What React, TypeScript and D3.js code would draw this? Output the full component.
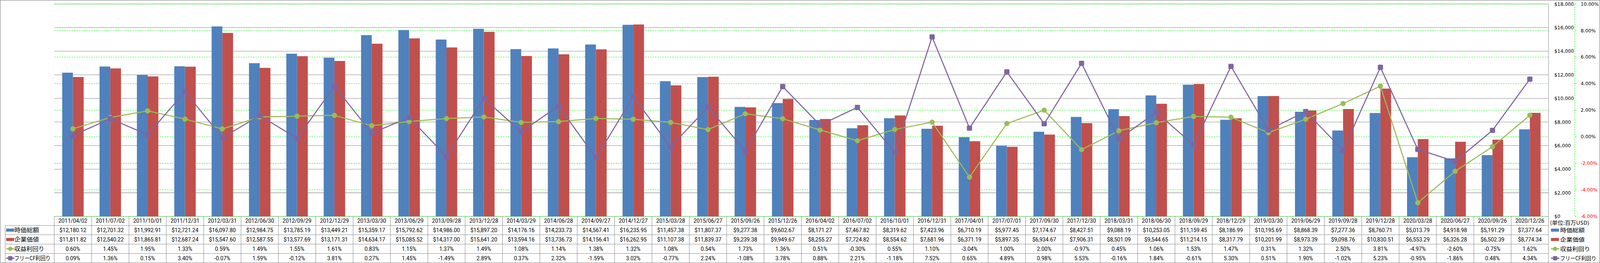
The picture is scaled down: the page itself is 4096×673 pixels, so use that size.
import React from 'react';
import * as d3 from 'd3';

const dates = [
  '2011/04/02', '2011/07/02', '2011/10/01', '2011/12/31',
  '2012/03/31', '2012/06/30', '2012/09/29', '2012/12/29',
  '2013/03/30', '2013/06/29', '2013/09/28', '2013/12/28',
  '2014/03/29', '2014/06/28', '2014/09/27', '2014/12/27',
  '2015/03/28', '2015/06/27', '2015/09/26', '2015/12/26',
  '2016/04/02', '2016/07/02', '2016/10/01', '2016/12/31',
  '2017/04/01', '2017/07/01', '2017/09/30', '2017/12/30',
  '2018/03/31', '2018/06/30', '2018/09/29', '2018/12/29',
  '2019/03/30', '2019/06/29', '2019/09/28', '2019/12/28',
  '2020/03/28', '2020/06/27', '2020/09/26', '2020/12/26',
];

// 時価総額 (百万USD)
const marketCap = [
  12180.12, 12701.32, 11992.91, 12721.24, 16097.8, 12984.75, 13785.19, 13449.21,
  15359.17, 15792.62, 14986.0, 15897.2, 14176.16, 14233.73, 14567.41, 16235.95,
  11457.38, 11807.37, 9277.38, 9602.67, 8171.27, 7467.82, 8319.62, 7423.96,
  6710.19, 5977.45, 7174.67, 8427.51, 9088.19, 10253.05, 11159.45, 8186.99,
  10195.69, 8868.39, 7277.36, 8760.71, 5013.79, 4918.98, 5191.29, 7377.64,
];

// 企業価値 (百万USD)
const enterpriseValue = [
  11811.82, 12540.22, 11865.81, 12687.24, 15547.6, 12587.55, 13577.69, 13171.31,
  14634.17, 15085.52, 14317.0, 15641.2, 13594.16, 13736.73, 14156.41, 16262.95,
  11107.38, 11839.37, 9239.38, 9949.67, 8255.27, 7724.82, 8554.62, 7681.96,
  6371.19, 5897.35, 6934.67, 7906.31, 8501.09, 9544.65, 11214.15, 8317.79,
  10201.99, 8973.39, 9098.76, 10830.51, 6553.29, 6326.28, 6502.39, 8774.34,
];

// 収益利回り (%)
const earningsYield = [
  0.6, 1.45, 1.95, 1.33, 0.59, 1.49, 1.55, 1.61, 0.83, 1.15, 1.37, 1.49,
  1.08, 1.14, 1.38, 1.32, 1.08, 0.54, 1.73, 1.36, 0.51, -0.3, 0.55, 1.1,
  -3.04, 1.0, 2.0, -0.97, 0.45, 1.06, 1.53, 1.47, 0.31, 1.32, 2.5, 3.81,
  -4.97, -2.6, -0.75, 1.62,
];

// フリーCF利回り (%)
const fcfYield = [
  0.09, 1.36, 0.15, 3.4, -0.07, 1.59, -0.12, 3.81, 0.27, 1.45, -1.49, 2.89,
  0.37, 2.32, -1.59, 3.02, -0.77, 2.24, -1.08, 3.78, 0.88, 2.21, -1.18, 7.52,
  0.65, 4.89, 0.98, 5.53, -0.16, 1.84, -0.61, 5.3, 0.51, 1.9, -1.02, 5.23,
  -0.95, -1.86, 0.48, 4.34,
];

const seriesNames = ['時価総額', '企業価値', '収益利回り', 'フリーCF利回り'];
const unitLabel = '(単位:百万USD)';

const W = 5221;
const H = 858;
const plot = { left: 177, right: 5053, top: 13, bottom: 706 };
const headerBottom = 735.5;
const rowH = 30.5;

const colors = {
  blue: '#4F81BD',
  red: '#C0504D',
  green: '#9BBB59',
  purple: '#8064A2',
  grid: '#868686',
  dash: '#00FF00',
};

const locale = d3.formatLocale({
  decimal: '.',
  thousands: ',',
  grouping: [3],
  currency: ['$', ''],
  minus: '-',
});
const fmtDollar = locale.format('$,.2f');
const fmtAxisDollar = locale.format('$,');
const fmtPct = (v: number) => locale.format('.2f')(v) + '%';

const tableFont = 'Roboto, "Liberation Sans", sans-serif';
const axisFont = '"DejaVu Sans", Verdana, sans-serif';
const jpFont = '"Noto Sans CJK JP", "Noto Sans CJK SC", sans-serif';

type KeyKind = 'bar' | 'circle' | 'square';

function LegendKey({ kind, color, x, y }: { kind: KeyKind; color: string; x: number; y: number }) {
  if (kind === 'bar') {
    return <rect x={x} y={y - 5} width={26} height={10} fill={color} />;
  }
  return (
    <g>
      <line x1={x} x2={x + 27} y1={y} y2={y} stroke={color} strokeWidth={4} />
      {kind === 'circle' ? (
        <circle cx={x + 13.5} cy={y} r={7} fill={color} />
      ) : (
        <rect x={x + 6.5} y={y - 7} width={14} height={14} rx={2.5} fill={color} />
      )}
    </g>
  );
}

// legend labels are squeezed a bit like the original narrow gothic font
const labelWidths = [80, 80, 98, 118];

export default function App() {
  const x = d3.scaleBand<string>().domain(dates).range([plot.left, plot.right]);
  const bw = x.bandwidth();
  const barW = bw * 0.287;
  const sub = d3
    .scaleBand<string>()
    .domain(['mc', 'ev'])
    .range([bw / 2 - barW, bw / 2 + barW]);

  const yDollar = d3.scaleLinear().domain([0, 18000]).range([plot.bottom, plot.top]);
  const yPct = d3.scaleLinear().domain([-6, 10]).range([plot.bottom, plot.top]);

  const dollarTicks = yDollar.ticks(9);
  const pctTicks = yPct.ticks(8);

  const cx = (i: number) => (x(dates[i]) as number) + bw / 2;
  const line = d3
    .line<number>()
    .x((_, i) => cx(i))
    .y((d) => yPct(d));

  const rows: { name: string; kind: KeyKind; color: string; values: string[] }[] = [
    { name: seriesNames[0], kind: 'bar', color: colors.blue, values: marketCap.map(fmtDollar) },
    { name: seriesNames[1], kind: 'bar', color: colors.red, values: enterpriseValue.map(fmtDollar) },
    { name: seriesNames[2], kind: 'circle', color: colors.green, values: earningsYield.map(fmtPct) },
    { name: seriesNames[3], kind: 'square', color: colors.purple, values: fcfYield.map(fmtPct) },
  ];
  const rowCenter = (r: number) => headerBottom + rowH * r + rowH / 2;
  const tableBottom = headerBottom + rowH * rows.length;

  return (
    <svg
      width={4096}
      height={673}
      viewBox={`0 0 ${W} ${H}`}
      preserveAspectRatio="none"
      style={{ position: 'absolute', left: 0, top: 0, background: '#fff' }}
    >
      <rect x={0} y={0} width={W} height={H} fill="#fff" />

      {/* gray $ gridlines */}
      {dollarTicks.map((t) => (
        <line key={`g${t}`} x1={plot.left} x2={plot.right} y1={yDollar(t)} y2={yDollar(t)}
          stroke={colors.grid} strokeWidth={1.3} />
      ))}
      {/* green dashed % gridlines */}
      {pctTicks.map((t) => (
        <line key={`p${t}`} x1={plot.left} x2={plot.right} y1={yPct(t)} y2={yPct(t)}
          stroke={colors.dash} strokeWidth={1.3} strokeDasharray="5,3" />
      ))}

      {/* bars */}
      {dates.map((d, i) => (
        <g key={`b${d}`}>
          <rect x={(x(d) as number) + (sub('mc') as number)} y={yDollar(marketCap[i])}
            width={sub.bandwidth()} height={plot.bottom - yDollar(marketCap[i])} fill={colors.blue} />
          <rect x={(x(d) as number) + (sub('ev') as number)} y={yDollar(enterpriseValue[i])}
            width={sub.bandwidth()} height={plot.bottom - yDollar(enterpriseValue[i])} fill={colors.red} />
        </g>
      ))}

      {/* lines */}
      <path d={line(earningsYield) || ''} fill="none" stroke={colors.green} strokeWidth={3.5} strokeLinejoin="round" />
      {earningsYield.map((v, i) => (
        <circle key={`ec${i}`} cx={cx(i)} cy={yPct(v)} r={8.5} fill={colors.green} />
      ))}
      <path d={line(fcfYield) || ''} fill="none" stroke={colors.purple} strokeWidth={3.5} strokeLinejoin="round" />
      {fcfYield.map((v, i) => (
        <rect key={`fr${i}`} x={cx(i) - 8.5} y={yPct(v) - 8.5} width={17} height={17} rx={3} fill={colors.purple} />
      ))}

      {/* plot right edge */}
      <line x1={plot.right} x2={plot.right} y1={plot.top} y2={tableBottom} stroke={colors.grid} strokeWidth={1.3} />

      {/* $ axis labels */}
      {dollarTicks.map((t) => (
        <text key={`dl${t}`} x={5072} y={yDollar(t)} dy="0.36em" fontFamily={axisFont} fontSize={15.5} fill="#000">
          {fmtAxisDollar(t)}
        </text>
      ))}

      {/* % axis */}
      <line x1={5139} x2={5139} y1={plot.top} y2={plot.bottom} stroke={colors.dash} strokeWidth={1.3} strokeDasharray="5,3" />
      {pctTicks.map((t) => (
        <g key={`pl${t}`}>
          <line x1={5139} x2={5145} y1={yPct(t)} y2={yPct(t)} stroke={colors.dash} strokeWidth={1.3} />
          <text x={5158} y={yPct(t)} dy="0.36em" fontFamily={axisFont} fontSize={15.5}
            fill={t < 0 ? '#FF0000' : '#000'}>
            {fmtPct(t)}
          </text>
        </g>
      ))}

      {/* data table grid */}
      {dates.map((d) => (
        <line key={`v${d}`} x1={x(d) as number} x2={x(d) as number} y1={plot.bottom} y2={tableBottom}
          stroke={colors.grid} strokeWidth={1.3} />
      ))}
      {rows.map((_, r) => (
        <line key={`h${r}`} x1={17} x2={plot.right} y1={headerBottom + rowH * r} y2={headerBottom + rowH * r}
          stroke={colors.grid} strokeWidth={1.3} />
      ))}
      <line x1={17} x2={17} y1={headerBottom} y2={tableBottom} stroke={colors.grid} strokeWidth={1.3} />

      {/* header dates */}
      {dates.map((d) => (
        <text key={`dt${d}`} x={(x(d) as number) + bw / 2} y={(plot.bottom + headerBottom) / 2} dy="0.36em"
          textAnchor="middle" fontFamily={tableFont} fontSize={17.7} fill="#000">
          {d}
        </text>
      ))}

      {/* table rows */}
      {rows.map((row, r) => (
        <g key={`r${r}`}>
          <LegendKey kind={row.kind} color={row.color} x={20} y={rowCenter(r)} />
          <text x={47} y={rowCenter(r)} dy="0.36em" fontFamily={jpFont} fontSize={19} fill="#000"
            textLength={labelWidths[r]} lengthAdjust="spacingAndGlyphs">
            {row.name}
          </text>
          {row.values.map((v, i) => (
            <text key={`c${r}-${i}`} x={cx(i)} y={rowCenter(r)} dy="0.36em" textAnchor="middle"
              fontFamily={tableFont} fontSize={17.7} fill="#000">
              {v}
            </text>
          ))}
        </g>
      ))}

      {/* right legend */}
      <text x={5058} y={727} dy="0.36em" fontFamily={jpFont} fontSize={17} fill="#000"
        textLength={128} lengthAdjust="spacingAndGlyphs">
        {unitLabel}
      </text>
      {rows.map((row, r) => (
        <g key={`lg${r}`}>
          <LegendKey kind={row.kind} color={row.color} x={5061} y={rowCenter(r)} />
          <text x={5091} y={rowCenter(r)} dy="0.36em" fontFamily={jpFont} fontSize={18} fill="#000"
            textLength={labelWidths[r]} lengthAdjust="spacingAndGlyphs">
            {row.name}
          </text>
        </g>
      ))}

      {/* chart border */}
      <rect x={0.75} y={0.75} width={W - 1.5} height={tableBottom - 0.75} fill="none" stroke={colors.grid} strokeWidth={1.5} />
    </svg>
  );
}
